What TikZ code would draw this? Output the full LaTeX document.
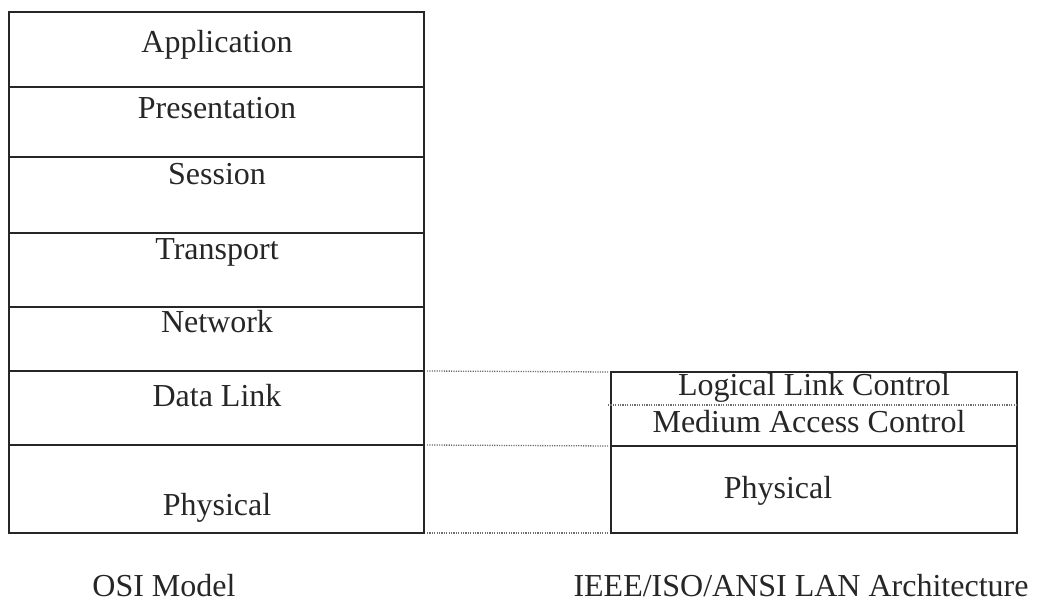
\documentclass[tikz,border=0pt]{standalone}
\usepackage{fontspec}
\setmainfont{Liberation Serif}
\definecolor{ink}{HTML}{262626}
\definecolor{dots}{HTML}{6E6E6E}
\begin{document}
\begin{tikzpicture}[x=1pt,y=-1pt,
  layerbox/.style={draw=ink, line width=1.7pt, inner sep=0pt, outer sep=0pt,
    anchor=north west, minimum width=415pt},
  lanbox/.style={layerbox, minimum width=406pt},
  lbl/.style={anchor=base, inner sep=0pt, text=ink,
    font=\fontsize{32}{38}\selectfont},
  dotline/.style={draw=dots, line width=1.3pt, dash pattern=on 1.2pt off 1.2pt},
  link/.style={dotline, shorten <=3pt, shorten >=2pt}]
\useasboundingbox (0,0) rectangle (1041,601);

% OSI reference model stack
\node[layerbox, minimum height=75pt] (app)   at (9,12) {};
\node[layerbox, minimum height=70pt] (pres)  at (app.south west) {};
\node[layerbox, minimum height=76pt] (sess)  at (pres.south west) {};
\node[layerbox, minimum height=74pt] (trans) at (sess.south west) {};
\node[layerbox, minimum height=64pt] (net)   at (trans.south west) {};
\node[layerbox, minimum height=74pt] (dl)    at (net.south west) {};
\node[layerbox, minimum height=88pt] (phys)  at (dl.south west) {};

\node[lbl] (tapp)   at (217,53)  {Application};
\node[lbl] (tpres)  at (217,119) {Presentation};
\node[lbl] (tsess)  at (217,185) {Session};
\node[lbl] (ttrans) at (217,260) {Transport};
\node[lbl] (tnet)   at (217,333) {Network};
\node[lbl] (tdl)    at (217,406) {Data Link};
\node[lbl] (tphys)  at (217,515) {Physical};

% LAN architecture stack
\node[lanbox, minimum height=74pt] (dlr)   at (611,372) {};
\node[lanbox, minimum height=87pt] (rphys) at (dlr.south west) {};
\coordinate (llcsplit) at (608,405);
\draw[dotline] (llcsplit) -- (dlr.east |- llcsplit);

\node[lbl] (tllc)   at (814,395) {Logical Link Control};
\node[lbl] (tmac)   at (809,432) {Medium Access Control};
\node[lbl] (trphys) at (778,498) {Physical};

% correspondence between the two stacks
\draw[link] (dl.north east)   -- (dlr.north west);
\draw[link] (dl.south east)   -- (dlr.south west);
\draw[link] (phys.south east) -- (rphys.south west);

% captions
\node[lbl] (cosi)  at (164,596) {OSI Model};
\node[lbl] (cieee) at (801,596) {IEEE/ISO/ANSI LAN Architecture};
\end{tikzpicture}
\end{document}
